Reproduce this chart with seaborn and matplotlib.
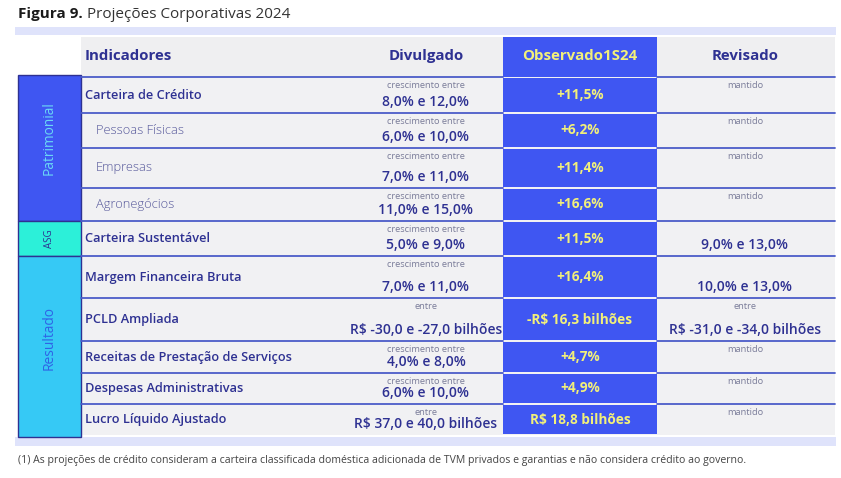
import matplotlib.pyplot as plt
import matplotlib.patches as mpatches
import seaborn as sns

# table content
indicadores = ["Carteira de Crédito", "Pessoas Físicas", "Empresas", "Agronegócios",
               "Carteira Sustentável", "Margem Financeira Bruta", "PCLD Ampliada",
               "Receitas de Prestação de Serviços", "Despesas Administrativas",
               "Lucro Líquido Ajustado"]
sub_item = [False, True, True, True, False, False, False, False, False, False]
divulgado_top = ["crescimento entre"] * 6 + ["entre", "crescimento entre",
                                             "crescimento entre", "entre"]
divulgado_val = ["8,0% e 12,0%", "6,0% e 10,0%", "7,0% e 11,0%", "11,0% e 15,0%",
                 "5,0% e 9,0%", "7,0% e 11,0%", "R$ -30,0 e -27,0 bilhões",
                 "4,0% e 8,0%", "6,0% e 10,0%", "R$ 37,0 e 40,0 bilhões"]
observado = ["+11,5%", "+6,2%", "+11,4%", "+16,6%", "+11,5%", "+16,4%",
             "-R$ 16,3 bilhões", "+4,7%", "+4,9%", "R$ 18,8 bilhões"]
revisado_top = ["mantido"] * 4 + ["", "", "entre", "mantido", "mantido", "mantido"]
revisado_val = ["", "", "", "", "9,0% e 13,0%", "10,0% e 13,0%",
                "R$ -31,0 e -34,0 bilhões", "", "", ""]
headers = ["Indicadores", "Divulgado", "Observado1S24", "Revisado"]
grupos = ["Patrimonial", "ASG", "Resultado"]
grupo_rows = [(0, 3), (4, 4), (5, 9)]

# layout (pixels)
row_edges = [77, 113, 148, 188, 221, 256, 298, 341, 373, 404, 435]
x_left, x_ind, x_obs0, x_obs1, x_right = 18, 81, 503, 657, 835
x_div, x_rev = 426, 745

navy = "#2e3192"
obs_blue = "#3f56f2"
grupo_colors = ["#3f56f2", "#2cf0d9", "#36c9f5"]
grupo_text = ["#6ad8f5", "#2e3192", "#2f63e6"]
grupo_shift = [-10, 0, -9]
gray_bg = "#f1f1f3"
lavender = "#dfe3fb"
line_c = "#4b5cc8"
yellow = "#f2f07a"

sns.set_theme(style="white")
plt.rcParams['font.family'] = ['Open Sans', 'DejaVu Sans']

fig = plt.figure(figsize=(8.41, 4.78), dpi=100)
ax = fig.add_axes([0, 0, 1, 1])
ax.set_xlim(0, 841)
ax.set_ylim(478, 0)
ax.axis("off")

# title
t1 = ax.text(x_left, 14, "Figura 9.", fontsize=11, fontweight="bold",
             color="#1a1a1a", va="center", ha="left")
fig.canvas.draw()
bb = t1.get_window_extent().transformed(ax.transData.inverted())
ax.text(bb.x1 + 4, 14, "Projeções Corporativas 2024", fontsize=11,
        color="#333333", va="center", ha="left")

# lavender bands
ax.add_patch(mpatches.Rectangle((15, 27), x_right + 1 - 15, 8, color=lavender, lw=0))
ax.add_patch(mpatches.Rectangle((15, row_edges[-1] + 2), x_right + 1 - 15, 9,
                                color=lavender, lw=0))

# header
ax.add_patch(mpatches.Rectangle((x_ind, 37), x_right - x_ind, row_edges[0] - 37,
                                color="#efeff1", lw=0))
ax.add_patch(mpatches.Rectangle((x_obs0, 37), x_obs1 - x_obs0, row_edges[0] - 37,
                                color=obs_blue, lw=0))
hy = 56
hfs = 10.8
ax.text(x_ind + 4, hy, headers[0], fontsize=hfs, fontweight="bold", color=navy,
        va="center", ha="left")
ax.text(x_div, hy, headers[1], fontsize=hfs, fontweight="bold", color=navy,
        va="center", ha="center")
ax.text((x_obs0 + x_obs1) / 2, hy, headers[2], fontsize=hfs, fontweight="bold",
        color=yellow, va="center", ha="center")
ax.text(x_rev, hy, headers[3], fontsize=hfs, fontweight="bold", color=navy,
        va="center", ha="center")
ax.plot([x_ind, x_obs0], [row_edges[0], row_edges[0]], color=line_c, lw=1.3)
ax.plot([x_obs1, x_right], [row_edges[0], row_edges[0]], color=line_c, lw=1.3)

# rows
for i, name in enumerate(indicadores):
    y0, y1 = row_edges[i], row_edges[i + 1]
    yc = (y0 + y1) / 2
    ax.add_patch(mpatches.Rectangle((x_ind, y0), x_right - x_ind, y1 - y0,
                                    color=gray_bg, lw=0))
    ax.add_patch(mpatches.Rectangle((x_obs0, y0 + 1), x_obs1 - x_obs0, y1 - y0 - 2,
                                    color=obs_blue, lw=0))
    if i < len(indicadores) - 1:
        ax.plot([x_ind, x_obs0], [y1, y1], color=line_c, lw=1.3)
        ax.plot([x_obs1, x_right], [y1, y1], color=line_c, lw=1.3)
    if sub_item[i]:
        ax.text(x_ind + 15, yc, name, fontsize=9.3, color="#55579a",
                fontweight="light", va="center", ha="left")
    else:
        ax.text(x_ind + 4, yc, name, fontsize=9.2, color=navy,
                fontweight="semibold", va="center", ha="left")
    ax.text(x_div, y0 + 8.5, divulgado_top[i], fontsize=6.7, color="#7a7c99",
            va="center", ha="center")
    ax.text(x_div, y1 - 11, divulgado_val[i], fontsize=10, fontweight="semibold",
            color=navy, va="center", ha="center", parse_math=False)
    ax.text((x_obs0 + x_obs1) / 2, yc, observado[i], fontsize=9.8, fontweight="bold",
            color=yellow, va="center", ha="center", parse_math=False)
    if revisado_top[i]:
        ax.text(x_rev, y0 + 8.5, revisado_top[i], fontsize=6.7, color="#7a7c99",
                va="center", ha="center")
    if revisado_val[i]:
        ax.text(x_rev, y1 - 11, revisado_val[i], fontsize=10, fontweight="semibold",
                color=navy, va="center", ha="center", parse_math=False)

# group blocks
for g, (r0, r1) in enumerate(grupo_rows):
    y0 = row_edges[r0] - (2 if r0 == 0 else 0)
    y1 = row_edges[r1 + 1] + (2 if r1 == len(indicadores) - 1 else 0)
    ax.add_patch(mpatches.Rectangle((x_left, y0), x_ind - x_left, y1 - y0,
                                    facecolor=grupo_colors[g], edgecolor=navy, lw=1.0))
    ax.text((x_left + x_ind) / 2, (y0 + y1) / 2 + grupo_shift[g], grupos[g],
            fontsize=7 if grupos[g] == "ASG" else 9.9, color=grupo_text[g],
            rotation=90, va="center", ha="center")

# footnote
ax.text(x_left, 460, "(1) As projeções de crédito consideram a carteira classificada "
        "doméstica adicionada de TVM privados e garantias e não considera crédito ao governo.",
        fontsize=7.6, color="#444444", va="center", ha="left")

fig.savefig("out.png", dpi=100)
